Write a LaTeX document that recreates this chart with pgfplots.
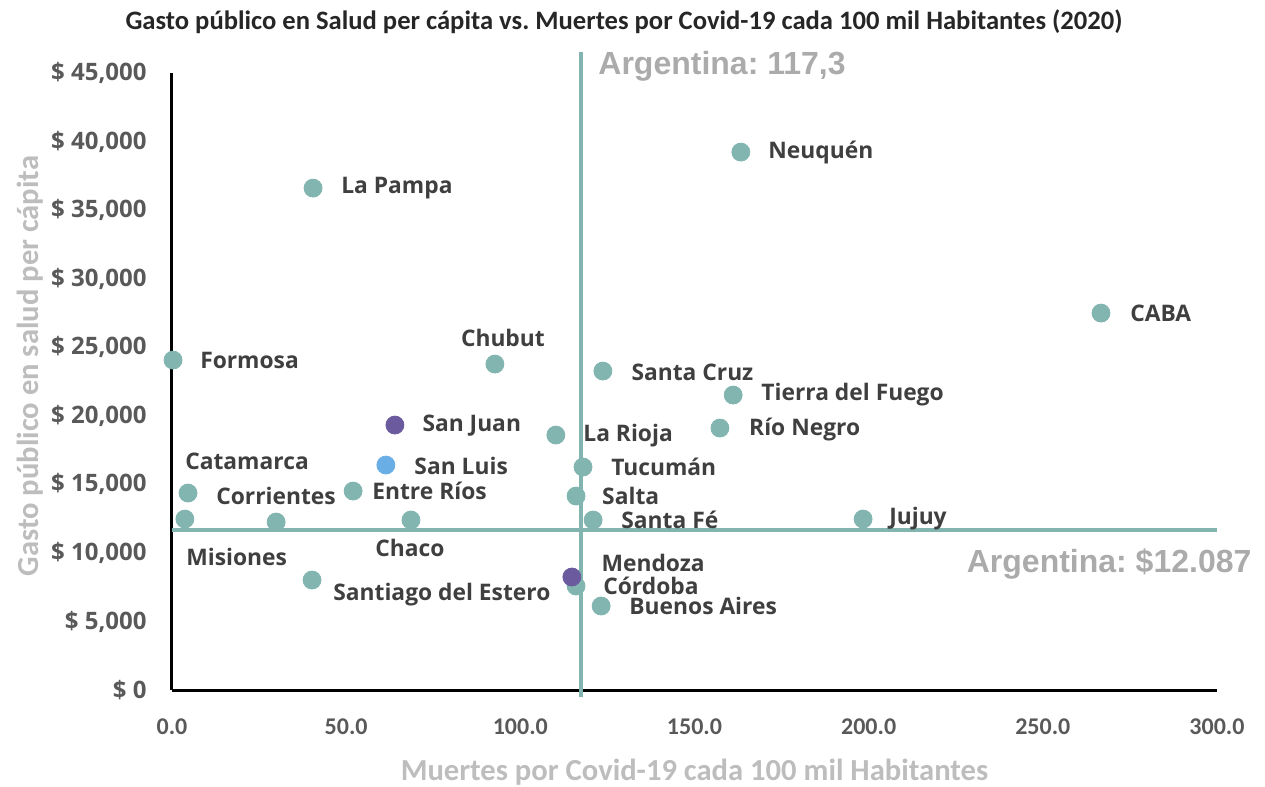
\documentclass[border=0pt]{standalone}
\usepackage{pgfplots}
\pgfplotsset{compat=1.18}
\usepackage{fontspec}
\setmainfont{Carlito}
\newfontfamily\lblfont{Open Sans}
\newfontfamily\argfont{Liberation Sans}
\frenchspacing

\definecolor{dotteal}{HTML}{82B5B0}
\definecolor{dotpurple}{HTML}{6B5B9E}
\definecolor{dotblue}{HTML}{6AAEE6}
\definecolor{lbltext}{HTML}{3F3F3F}
\definecolor{ticktext}{HTML}{595959}
\definecolor{axtitle}{HTML}{BDBDBD}
\definecolor{argtext}{HTML}{ABABAB}

\newcommand\lbl[3][west]{\node[anchor=#1, inner sep=0pt, text=lbltext,
  font=\lblfont\bfseries\fontsize{11.4bp}{13bp}\selectfont] at (axis cs:#2) {#3};}

\begin{document}
\begin{tikzpicture}
\path[use as bounding box] (-86bp,-48.5bp) rectangle (546.5bp,345bp);

\begin{axis}[%
scale only axis,
width=522.5bp,
height=308.5bp,
xmin=0, xmax=300,
ymin=0, ymax=45000,
clip=false,
scaled y ticks=false,
axis x line=bottom,
axis y line=left,
axis line style={-, black, line width=1.5bp},
major tick length=0pt,
xtick={0,50,100,150,200,250,300},
xticklabels={0.0,50.0,100.0,150.0,200.0,250.0,300.0},
ytick={0,5000,10000,15000,20000,25000,30000,35000,40000,45000},
yticklabels={{\$ 0},{\$ 5,000},{\$ 10,000},{\$ 15,000},{\$ 20,000},{\$ 25,000},{\$ 30,000},{\$ 35,000},{\$ 40,000},{\$ 45,000}},
xticklabel style={anchor=north, inner sep=0pt, yshift=-14bp, text=ticktext,
  font=\bfseries\fontsize{12bp}{14bp}\selectfont},
yticklabel style={anchor=east, inner sep=0pt, xshift=-12.5bp, text=ticktext,
  font=\lblfont\bfseries\fontsize{12bp}{14bp}\selectfont},
xlabel={Muertes por Covid-19 cada 100 mil Habitantes},
xlabel style={at={(rel axis cs:0.5,0)}, anchor=center, yshift=-41bp, text=axtitle,
  font=\bfseries\fontsize{15.3bp}{17bp}\selectfont},
ylabel={Gasto público en salud per cápita},
ylabel style={at={(axis description cs:-0.136,0.525)}, anchor=center, text=axtitle,
  font=\bfseries\fontsize{15.3bp}{17bp}\selectfont},
title={Gasto público en Salud per cápita vs. Muertes por Covid-19 cada 100 mil Habitantes (2020)},
title style={at={(rel axis cs:0.4325,1)}, anchor=center, yshift=19.5bp, text=black!85,
  font=\bfseries\fontsize{13.3bp}{15bp}\selectfont},
]

% provincias
\addplot[only marks, mark=*, mark size=4.5bp, color=dotteal, mark options={draw=dotteal, fill=dotteal}]
table[row sep=crcr]{
163.3 39230\\
40.5 36605\\
266.7 27490\\
0.3 24063\\
92.7 23771\\
123.7 23261\\
161.1 21511\\
157.3 19105\\
110.2 18594\\
118.0 16261\\
4.6 14365\\
52.0 14511\\
116.0 14146\\
120.9 12396\\
198.4 12469\\
3.7 12469\\
29.9 12250\\
68.6 12396\\
40.2 8021\\
116.0 7584\\
123.2 6125\\
};
\addplot[only marks, mark=*, mark size=4.5bp, color=dotpurple, mark options={draw=dotpurple, fill=dotpurple}]
table[row sep=crcr]{
64.0 19323\\
114.8 8240\\
};
\addplot[only marks, mark=*, mark size=4.5bp, color=dotblue, mark options={draw=dotblue, fill=dotblue}]
table[row sep=crcr]{
61.4 16407\\
};

% promedio nacional
\addplot[dotteal, line width=2bp] coordinates {(117.3,-510) (117.3,46520)};
\addplot[dotteal, line width=2bp] coordinates {(0,11700) (300,11700)};

\node[anchor=west, inner sep=0pt, text=argtext, font=\argfont\bfseries\fontsize{16bp}{18bp}\selectfont]
  at (axis cs:122.3,45500) {Argentina: 117,3};
\node[anchor=east, inner sep=0pt, text=argtext, font=\argfont\bfseries\fontsize{16bp}{18bp}\selectfont]
  at (axis cs:310,9188) {Argentina: \$12.087};

\lbl{171.1,39230}{Neuquén}
\lbl{48.5,36605}{La Pampa}
\lbl{275,27490}{CABA}
\lbl{8.0,24063}{Formosa}
\lbl[center]{95.0,25667}{Chubut}
\lbl{131.8,23188}{Santa Cruz}
\lbl{169.1,21511}{Tierra del Fuego}
\lbl{165.6,19032}{Río Negro}
\lbl{71.8,19251}{San Juan}
\lbl{118.0,18521}{La Rioja}
\lbl{69.5,16334}{San Luis}
\lbl{126.0,16261}{Tucumán}
\lbl{3.7,16698}{Catamarca}
\lbl{12.6,14146}{Corrientes}
\lbl{57.4,14511}{Entre Ríos}
\lbl{123.4,14146}{Salta}
\lbl{128.9,12396}{Santa Fé}
\lbl{205.8,12469}{Jujuy}
\lbl{4.0,9698}{Misiones}
\lbl[center]{68.3,10354}{Chaco}
\lbl{123.2,9261}{Mendoza}
\lbl{123.7,7584}{Córdoba}
\lbl{46.2,6927}{Santiago del Estero}
\lbl{131.2,6125}{Buenos Aires}

\end{axis}
\end{tikzpicture}
\end{document}
